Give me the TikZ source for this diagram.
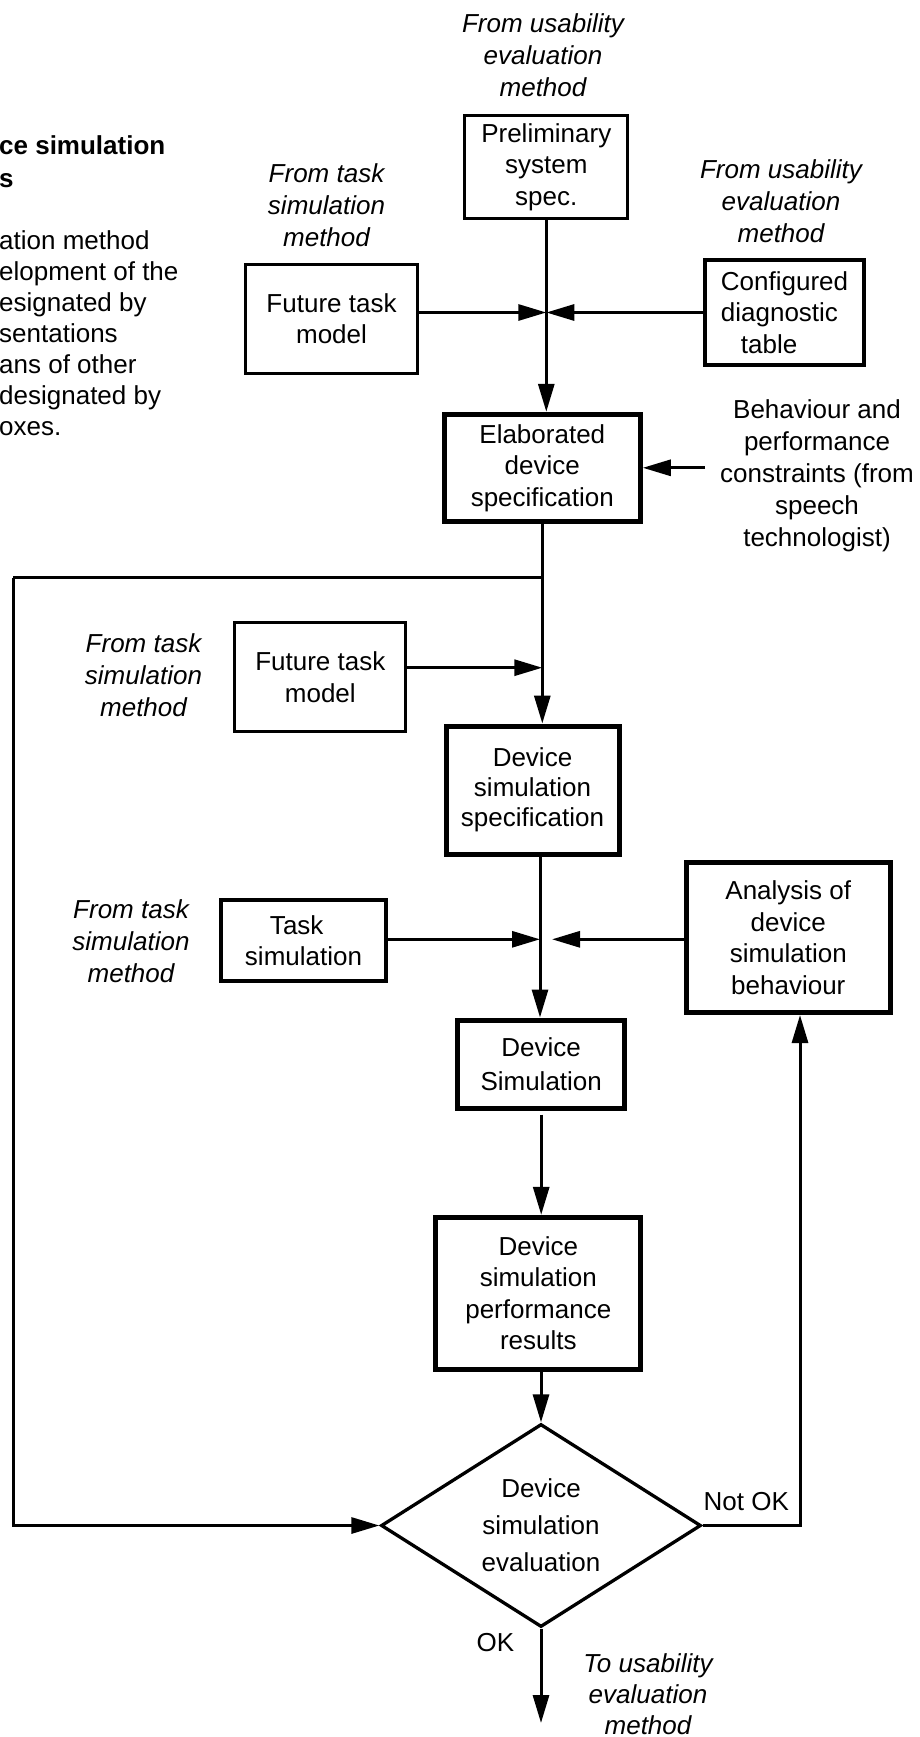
\documentclass[tikz,border=0pt]{standalone}
\usepackage{fontspec}
\setmainfont{Liberation Sans}
\usetikzlibrary{arrows.meta,shapes.geometric}
\newcommand\figfont{\fontsize{26pt}{31.5pt}\selectfont}
\begin{document}
\begin{tikzpicture}[x=1pt,y=-1pt,
  every node/.style={font=\figfont, inner sep=0pt},
  thinbox/.style={draw, line width=3.2pt, align=center},
  thickbox/.style={draw, line width=5pt, align=center},
  plain/.style={align=center},
  src/.style={align=center, font=\fontsize{26pt}{32pt}\selectfont\itshape},
  flow/.style={line width=3pt},
  arr/.style={flow, -{Triangle[length=28pt,width=16pt]}},
]
\fill[white] (0,0) rectangle (920,1737);
\useasboundingbox (0,0) rectangle (920,1737);

% caption fragment on the left
\node[anchor=west, align=left, font=\fontsize{26pt}{33pt}\selectfont\bfseries] (title) at (-1,162) {ce simulation\\s};
\node[anchor=west, align=left, font=\fontsize{26pt}{31pt}\selectfont] (intro) at (-1,333.5)
  {ation method\\elopment of the\\esignated by\\sentations\\ans of other\\designated by\\oxes.};

% source annotations
\node[src] (fromA) at (543,55.2) {From usability\\evaluation\\method};
\node[src] (fromB) at (326.5,205) {From task\\simulation\\method};
\node[src] (fromC) at (781,201.5) {From usability\\evaluation\\method};
\node[src] (fromD) at (143.5,675) {From task\\simulation\\method};
\node[src] (fromE) at (131,941.7) {From task\\simulation\\method};
\node[src, font=\fontsize{26pt}{31pt}\selectfont\itshape] (toU) at (648,1694.5) {To usability\\evaluation\\method};
\node[plain, font=\fontsize{26pt}{32pt}\selectfont] (beh) at (817,475.3)
  {Behaviour and\\performance\\constraints (from\\speech\\technologist)};

% boxes
\node[thinbox, minimum width=163pt, minimum height=103pt] (pre) at (546.3,167.2) {Preliminary\\system\\spec.};
\node[thinbox, minimum width=172pt, minimum height=109pt] (ftmA) at (331.5,318.9) {Future task\\model};
\node[thinbox, align=left, minimum width=159pt, minimum height=105pt] (cdt) at (784.5,312.5)
  {Configured\\diagnostic\\\hspace*{20pt}table};
\node[thickbox, minimum width=196pt, minimum height=107pt] (eds) at (542.3,467.8) {Elaborated\\device\\specification};
\node[thinbox, minimum width=171pt, minimum height=109pt] (ftmB) at (320.3,677.2) {Future task\\model};
\node[thickbox, minimum width=173pt, minimum height=128pt, font=\fontsize{26pt}{30pt}\selectfont] (dss) at (532.5,790)
  {Device\\simulation\\specification};
\node[thinbox, align=left, minimum width=165pt, minimum height=81pt] (ts) at (303.5,940.5)
  {\hspace*{25pt}Task\\simulation};
\node[thickbox, minimum width=204pt, minimum height=150pt] (ads) at (788.3,937.5)
  {Analysis of\\device\\simulation\\behaviour};
\node[thickbox, minimum width=167pt, minimum height=88pt, font=\fontsize{26pt}{34pt}\selectfont] (ds) at (541.2,1064)
  {Device\\Simulation};
\node[thickbox, minimum width=205pt, minimum height=152pt] (dspr) at (538.3,1293.3)
  {Device\\simulation\\performance\\results};
\node[diamond, draw, line width=3.3pt, aspect=1.57, minimum width=320pt, minimum height=203pt,
      align=center, font=\fontsize{26pt}{37pt}\selectfont] (dse) at (541,1525.5)
  {Device\\simulation\\evaluation};

% branch labels
\node (notok) at (746.3,1501.7) {Not OK};
\node (ok) at (495.5,1642.7) {OK};

% junctions and bends
\coordinate (J1) at (pre.south |- cdt.west);
\coordinate (J2) at (542.3,577.5);
\coordinate (J3) at (542.3,667.7);
\coordinate (J4) at (540,939.3);
\coordinate (loopTop) at (13.3,577.5);
\coordinate (nk) at (800,1525.5);
\coordinate (out) at (541,1723);

% connectors
\draw[arr] (pre.south) -- (pre.south |- eds.north);
\draw[arr] (ftmA.east |- J1) -- (J1);
\draw[arr] (cdt.west) -- (J1);
\draw[arr] ([xshift=-15pt]beh.west |- eds.east) -- (eds.east);
\draw[arr] (eds.south) -- (eds.south |- dss.north);
\draw[arr] (ftmB.east |- J3) -- (J3);
\draw[flow] (J2) -- (loopTop);
\draw[arr] (loopTop) |- (dse.west);
\draw[arr] (dss.south -| J4) -- (J4 |- ds.north);
\draw[arr] (ts.east |- J4) -- (J4);
\draw[arr] (ads.west |- J4) -- ([xshift=12pt]J4);
\draw[arr, shorten <=4pt] (ds.south) -- (ds.south |- dspr.north);
\draw[arr] (dse.north |- dspr.south) -- (dse.north);
\draw[arr] (dse.east) -- (nk) -- (nk |- ads.south);
\draw[arr] (dse.south) -- (out);
\end{tikzpicture}
\end{document}
